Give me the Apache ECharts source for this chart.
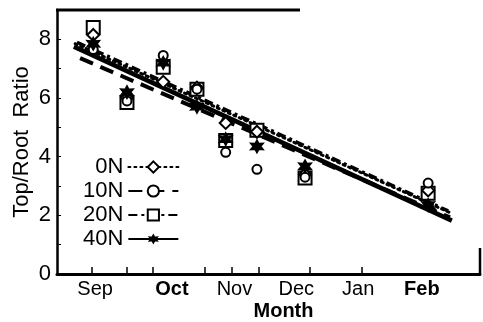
<!DOCTYPE html>
<html>
<head>
<meta charset="utf-8">
<script src="https://cdn.jsdelivr.net/npm/echarts@6/dist/echarts.min.js"></script>
<style>
  html, body { margin: 0; padding: 0; background: #fff; }
  #chart { width: 483px; height: 322px; }
</style>
</head>
<body>
<div id="chart"></div>
<script>
// x in months (Oct = 2, Nov = 3, ...)
const sampleX = [0.74, 1.28, 1.86, 2.40, 2.86, 3.36, 4.13, 6.10];
const n0  = [8.15, 6.0, 6.55, 6.35, 5.15, 4.85, 3.4, 2.85];
const n10 = [7.65, 5.9, 7.45, 6.3, 4.15, 3.57, 3.3, 3.1];
const n20 = [8.4, 5.85, 7.05, 6.3, 4.55, 4.9, 3.27, 2.75];
const n40 = [7.85, 6.2, 7.2, 5.7, 4.6, 4.35, 3.67, 2.35];

// fitted lines, [start, end]
const fit0  = [[0.45, 7.85], [6.45, 2.09]];
const fit10 = [[0.53, 7.36], [6.45, 1.93]];
const fit20 = [[0.48, 7.9], [6.42, 2.15]];
const fit40 = [[0.43, 7.75], [6.48, 1.82]];

const monthNames = ['Sep', 'Oct', 'Nov', 'Dec', 'Jan', 'Feb'];
const monthPos = [0.77, 2.0, 3.0, 3.99, 4.98, 6.0];
const boldMonths = ['Oct', 'Feb'];
const tickPos = [0.72, 1.28, 1.70, 2.53, 2.96, 3.39, 4.21, 5.04];

const font = '"Liberation Sans", Arial, sans-serif';
const star6 = 'path://M0,-10 L2.6,-4.5 L8.7,-5 L5.2,0 L8.7,5 L2.6,4.5 L0,10 L-2.6,4.5 L-8.7,5 L-5.2,0 L-8.7,-5 L-2.6,-4.5 Z';

const pts = arr => arr.map((v, i) => [sampleX[i], v]);

const chart = echarts.init(document.getElementById('chart'));

function fitSeries(name, data, symbol, size, lineStyle) {
  return {
    name: name, type: 'line', data: data,
    symbol: symbol, symbolSize: size, showSymbol: false,
    itemStyle: { color: '#000', borderColor: '#000' },
    lineStyle: Object.assign({ color: '#000' }, lineStyle),
    z: 3, silent: true
  };
}
function ptSeries(name, data, symbol, size, z) {
  return {
    name: name, type: 'scatter', data: pts(data),
    symbol: symbol, symbolSize: size,
    itemStyle: { color: '#000', borderColor: '#000', borderWidth: 1.3, opacity: 1 },
    z: z, silent: true
  };
}

chart.setOption({
  animation: false,
  grid: { left: 57, right: 3, top: 10, bottom: 48, outerBoundsMode: 'none' },
  legend: {
    data: ['0N', '10N', '20N', '40N'],
    orient: 'vertical', align: 'right',
    left: 78, top: 151, itemGap: 2,
    itemWidth: 50, itemHeight: 14,
    textStyle: { fontFamily: font, fontSize: 22, color: '#000' }
  },
  xAxis: {
    type: 'value', min: 0.16, max: 6.93,
    name: 'Month', nameLocation: 'middle', nameGap: 27, nameMoveOverlap: false,
    nameTextStyle: { fontFamily: font, fontSize: 20, fontWeight: 'bold', color: '#000', padding: [0, 0, 0, 30] },
    axisLine: { lineStyle: { color: '#000', width: 3 } },
    axisTick: { inside: true, length: 7, lineStyle: { color: '#000', width: 1.5 }, customValues: tickPos },
    axisLabel: {
      customValues: monthPos, margin: 5,
      fontFamily: font, fontSize: 20, color: '#000',
      formatter: v => {
        const i = monthPos.indexOf(v);
        const m = i >= 0 ? monthNames[i] : '';
        return boldMonths.includes(m) ? '{b|' + m + '}' : m;
      },
      rich: { b: { fontFamily: font, fontSize: 20, fontWeight: 'bold', color: '#000' } }
    },
    splitLine: { show: false }
  },
  yAxis: {
    type: 'value', min: 0, max: 9, interval: 1,
    name: 'Top/Root  Ratio', nameLocation: 'middle', nameGap: 24, nameMoveOverlap: false,
    nameTextStyle: { fontFamily: font, fontSize: 22, color: '#000' },
    axisLine: { show: true, lineStyle: { color: '#000', width: 2.5 } },
    axisTick: { inside: true, length: 4, lineStyle: { color: '#000', width: 1 } },
    axisLabel: {
      margin: 6, fontFamily: font, fontSize: 22, color: '#000',
      formatter: v => (v % 2 === 0 && v < 9 ? String(v) : '')
    },
    splitLine: { show: false }
  },
  graphic: [
    { type: 'line', shape: { x1: 56, y1: 10, x2: 300, y2: 10 }, style: { stroke: '#000', lineWidth: 3 } },
    { type: 'line', shape: { x1: 480, y1: 248, x2: 480, y2: 274 }, style: { stroke: '#000', lineWidth: 2.5 } }
  ],
  series: [
    fitSeries('0N', fit0, 'emptyDiamond', 12, { width: 3, type: [2, 4], cap: 'round' }),
    fitSeries('10N', fit10, 'emptyCircle', 9, { width: 4, type: [14, 8] }),
    fitSeries('20N', fit20, 'emptyRect', 12, { width: 3.5, type: [9, 4, 3, 4] }),
    fitSeries('40N', fit40, star6, 13, { width: 4.5 }),
    ptSeries('20N pts', n20, 'emptyRect', 13, 4),
    ptSeries('0N pts', n0, 'emptyDiamond', 12, 5),
    ptSeries('10N pts', n10, 'emptyCircle', 9, 6),
    ptSeries('40N pts', n40, star6, 13, 7)
  ]
});
</script>
</body>
</html>
